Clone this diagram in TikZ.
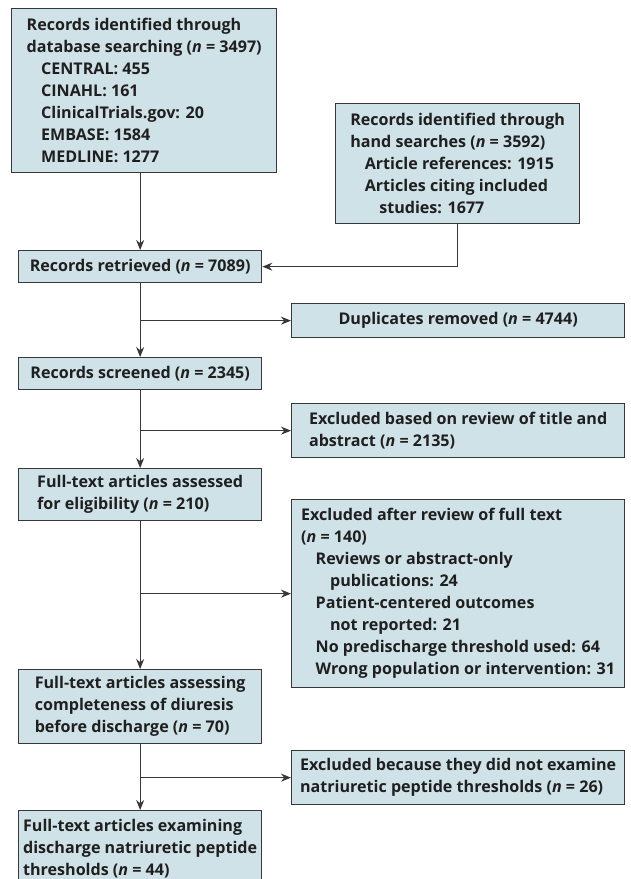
\documentclass[tikz,border=0pt]{standalone}
\usepackage{fontspec}
\setmainfont{Open Sans}
\usetikzlibrary{arrows.meta}
\definecolor{boxfill}{RGB}{207,226,231}
\definecolor{boxline}{RGB}{55,55,55}
\tikzset{
  flowbox/.style={draw=boxline, fill=boxfill, line width=1.3pt, anchor=north west,
    align=left, inner sep=0pt, text=black!88,
    font=\fontsize{16.1}{22}\selectfont\bfseries},
  leftbox/.style={flowbox, minimum width=243},
  rightbox/.style={flowbox, minimum width=333},
  flowarrow/.style={draw=boxline, line width=1.2pt, -{Stealth[length=10pt,width=8pt]}},
}
\newcommand{\nn}{\textit{n}}
\newcommand{\ind}{\hspace*{0.9em}}
\begin{document}
\begin{tikzpicture}[x=1pt,y=-1pt]
    \useasboundingbox (0,0) rectangle (630,879);

    \node[flowbox, minimum width=265, minimum height=164] (db) at (11,8)
      {Records identified through\\database searching (\nn{} = 3497)\\
       \ind CENTRAL: 455\\\ind CINAHL: 161\\\ind ClinicalTrials.gov: 20\\
       \ind EMBASE: 1584\\\ind MEDLINE: 1277};
    \node[flowbox, minimum width=244, minimum height=120] (hand) at (335,103)
      {Records identified through\\hand searches (\nn{} = 3592)\\
       \ind Article references: 1915\\\ind Articles citing included\\
       \ind\ind studies: 1677};

    \node[leftbox, minimum height=32] (ret) at (18,250)
      {Records retrieved (\nn{} = 7089)};
    \node[rightbox, minimum height=34, align=center] (dup) at (291,303)
      {Duplicates removed (\nn{} = 4744)};
    \node[leftbox, minimum height=32] (scr) at (18,357)
      {Records screened (\nn{} = 2345)};
    \node[rightbox, minimum height=54] (title) at (291,403)
      {Excluded based on review of title and\\abstract (\nn{} = 2135)};
    \node[leftbox, minimum height=52] (elig) at (18,468)
      {Full-text articles assessed\\for eligibility (\nn{} = 210)};
    \node[rightbox, minimum height=188] (full) at (291,499)
      {Excluded after review of full text\\(\nn{} = 140)\\
       \ind Reviews or abstract-only\\\ind\ind publications: 24\\
       \ind Patient-centered outcomes\\\ind\ind not reported: 21\\
       \ind No predischarge threshold used: 64\\
       \ind Wrong population or intervention: 31};
    \node[leftbox, minimum height=74] (diur) at (18,669)
      {Full-text articles assessing\\completeness of diuresis\\
       before discharge (\nn{} = 70)};
    \node[rightbox, minimum height=54] (natr) at (291,750)
      {Excluded because they did not examine\\natriuretic peptide thresholds (\nn{} = 26)};
    \node[leftbox, minimum height=76] (incl) at (18,810)
      {Full-text articles examining\\discharge natriuretic peptide\\
       thresholds (\nn{} = 44)};

    \draw[flowarrow] (db.south -| ret.north) -- (ret.north);
    \draw[flowarrow] (hand.south) |- (ret.east);
    \draw[flowarrow] (ret) -- (scr);
    \draw[flowarrow] (ret.south |- dup.west) -- (dup.west);
    \draw[flowarrow] (scr) -- (elig);
    \draw[flowarrow] (scr.south |- title.west) -- (title.west);
    \draw[flowarrow] (elig) -- (diur);
    \draw[flowarrow] (elig.south |- full.west) -- (full.west);
    \draw[flowarrow] (diur) -- (incl);
    \draw[flowarrow] (diur.south |- natr.west) -- (natr.west);
\end{tikzpicture}
\end{document}
